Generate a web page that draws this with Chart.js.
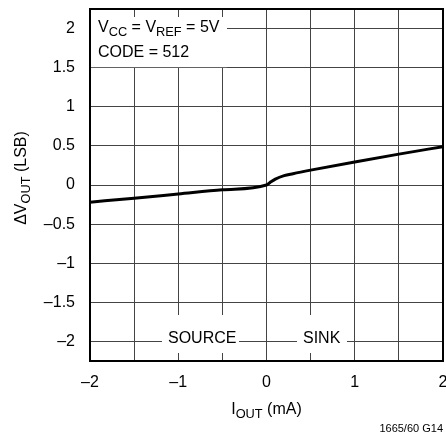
<!DOCTYPE html>
<html>
<head>
<meta charset="utf-8">
<script src="https://cdn.jsdelivr.net/npm/chart.js@4/dist/chart.umd.min.js"></script>
<style>
  html, body { margin: 0; padding: 0; background: #fff; }
  #wrap { width: 446px; height: 447px; position: relative; }
</style>
</head>
<body>
<div id="wrap"><canvas id="chart" width="446" height="447"></canvas></div>
<script>
// values
const iOut = [-2, -1.5, -1, -0.5, 0, 0.05, 0.1, 0.2, 0.3, 0.5, 1, 1.5, 2];
const dVout = [-0.22, -0.168, -0.115, -0.062, 0, 0.04, 0.075, 0.12, 0.145, 0.19, 0.295, 0.395, 0.49];

const xTicks = [-2, -1.5, -1, -0.5, 0, 0.5, 1, 1.5, 2];
const yTicks = [-2, -1.5, -1, -0.5, 0, 0.5, 1, 1.5, 2];

const FONT = '"Liberation Sans Narrow", "Liberation Sans", Arial, sans-serif';

function fmt(v) {
    return v < 0 ? '\u2013' + Math.abs(v) : String(v);
}

// draws text made of pieces, some of them subscripts
function drawRich(ctx, parts, x, y, size) {
    let cx = x;
    parts.forEach(p => {
        const sz = p[1] ? size * 0.8 : size;
        ctx.font = sz + 'px ' + FONT;
        ctx.fillText(p[0], cx, p[1] ? y + size * 0.22 : y);
        cx += ctx.measureText(p[0]).width;
    });
    return cx - x;
}
function richWidth(ctx, parts, size) {
    let w = 0;
    parts.forEach(p => {
        ctx.font = (p[1] ? size * 0.8 : size) + 'px ' + FONT;
        w += ctx.measureText(p[0]).width;
    });
    return w;
}

function noPad(s) {
    s.paddingTop = 0;
    s.paddingBottom = 0;
    s.paddingLeft = 0;
    s.paddingRight = 0;
}

const labelsPlugin = {
    id: 'labels',
    beforeDatasetsDraw(chart) {
        const ctx = chart.ctx;
        const a = chart.chartArea;
        const ys = chart.scales.y;
        ctx.save();
        ctx.fillStyle = '#fff';
        // boxes behind the notes
        ctx.fillRect(a.left + 1, a.top + 8, 136, ys.getPixelForValue(1.5) - a.top - 8.5);
        ctx.fillRect(162, a.bottom - 46, 77, 38);
        ctx.fillRect(297, a.bottom - 46, 50, 38);

        ctx.fillStyle = '#000';
        ctx.textBaseline = 'alphabetic';
        ctx.textAlign = 'left';
        drawRich(ctx, [['V', 0], ['CC', 1], [' = V', 0], ['REF', 1], [' = 5V', 0]], a.left + 8, 32, 16);
        drawRich(ctx, [['CODE = 512', 0]], a.left + 8, 57, 16);
        ctx.font = '16px ' + FONT;
        ctx.fillText('SOURCE', 168, 343);
        ctx.fillText('SINK', 303, 343);
        ctx.restore();
    },
    afterDraw(chart) {
        const ctx = chart.ctx;
        const a = chart.chartArea;
        ctx.save();
        ctx.strokeStyle = '#000';
        ctx.lineWidth = 2;
        ctx.strokeRect(a.left, a.top, a.right - a.left, a.bottom - a.top);

        ctx.fillStyle = '#000';
        // x title
        const xt = [['I', 0], ['OUT', 1], [' (mA)', 0]];
        const xw = richWidth(ctx, xt, 16);
        drawRich(ctx, xt, (a.left + a.right) / 2 - xw / 2, 414, 16);
        // y title
        const yt = [['\u0394V', 0], ['OUT', 1], [' (LSB)', 0]];
        const yw = richWidth(ctx, yt, 16);
        ctx.translate(26, 178);
        ctx.rotate(-Math.PI / 2);
        drawRich(ctx, yt, -yw / 2, 0, 16);
        ctx.restore();

        ctx.save();
        ctx.font = '11px ' + FONT;
        ctx.textAlign = 'right';
        ctx.fillStyle = '#000';
        ctx.fillText('1665/60 G14', 443, 432);
        ctx.restore();
    }
};

new Chart(document.getElementById('chart'), {
    type: 'line',
    data: {
        datasets: [{
            data: iOut.map((x, i) => ({x: x, y: dVout[i]})),
            borderColor: '#000',
            borderWidth: 3,
            pointRadius: 0,
            cubicInterpolationMode: 'monotone',
            fill: false
        }]
    },
    options: {
        responsive: false,
        animation: false,
        devicePixelRatio: 1,
        layout: { autoPadding: false, padding: { top: 9, right: 3, left: 0, bottom: 0 } },
        plugins: { legend: { display: false }, tooltip: { enabled: false } },
        scales: {
            x: {
                type: 'linear',
                min: -2, max: 2,
                afterBuildTicks: s => { s.ticks = xTicks.map(v => ({value: v})); },
                afterFit: s => { s.height = 86; noPad(s); },
                grid: { color: '#444', lineWidth: 1, drawTicks: false },
                border: { display: false },
                ticks: {
                    padding: 12,
                    color: '#000',
                    font: { family: FONT, size: 16 },
                    maxRotation: 0,
                    autoSkip: false,
                    callback: v => Number.isInteger(v) ? fmt(v) : ''
                }
            },
            y: {
                type: 'linear',
                min: -2.25, max: 2.25,
                afterBuildTicks: s => { s.ticks = yTicks.map(v => ({value: v})); },
                afterFit: s => { s.width = 90; noPad(s); },
                grid: { color: '#444', lineWidth: 1, drawTicks: false },
                border: { display: false },
                ticks: {
                    padding: 15,
                    color: '#000',
                    font: { family: FONT, size: 16 },
                    autoSkip: false,
                    callback: v => fmt(v)
                }
            }
        }
    },
    plugins: [labelsPlugin]
});
</script>
</body>
</html>
